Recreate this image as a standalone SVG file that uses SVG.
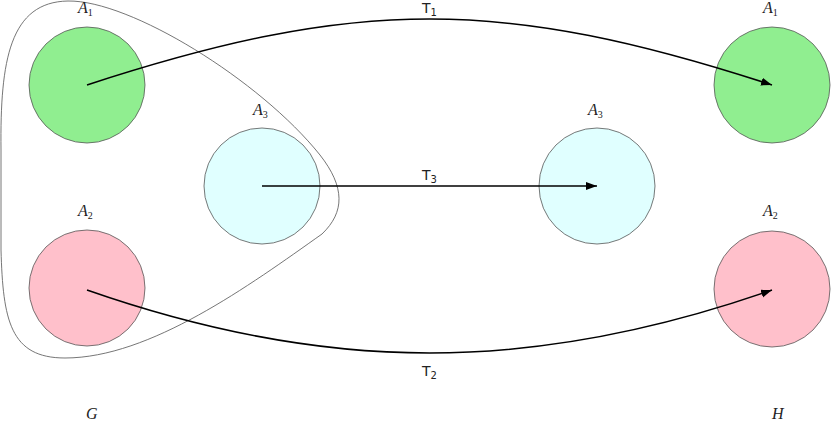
<svg xmlns="http://www.w3.org/2000/svg" width="831" height="421" viewBox="0 0 831 421">
<style>
.node circle{stroke:#555;stroke-width:0.8}
.g1{fill:#90EE90}.g3{fill:#E0FFFF}.g2{fill:#FFC0CB}
.lab{font-family:"Liberation Serif",serif;font-style:italic;font-size:16px;fill:#222}
.sub{font-family:"Liberation Serif",serif;font-style:normal;font-size:10px}
.t{font-family:"DejaVu Sans","Liberation Sans",sans-serif;font-size:14px;fill:#222}
.ts{font-size:10px}
.edge{fill:none;stroke:#000;stroke-width:1.5}
.blob{fill:none;stroke:#666;stroke-width:0.9}
</style>
<defs>
<marker id="ah" markerUnits="userSpaceOnUse" markerWidth="14" markerHeight="10" refX="11" refY="4" orient="auto">
<path d="M0,0 L11,4 L0,8 Z" fill="#000"/>
</marker>
</defs>
<g id="group-G">
<path class="blob" d="M68,1 C130,0 260,80 320,155 C345,187 345,212 322,234 C250,285 150,358 65,358 C10,358 3,320 1,250 L1,150 C0,60 10,2 68,1 Z"/>
<text class="lab" x="86" y="419">G</text>
</g>
<g id="label-H"><text class="lab" x="772" y="419">H</text></g>
<g id="G-A1" class="node"><circle class="g1" cx="87" cy="85" r="58"/><text class="lab" x="78" y="13">A<tspan class="sub" dy="3">1</tspan></text></g>
<g id="G-A3" class="node"><circle class="g3" cx="262" cy="186" r="58"/><text class="lab" x="253" y="115">A<tspan class="sub" dy="3">3</tspan></text></g>
<g id="G-A2" class="node"><circle class="g2" cx="87" cy="288" r="58"/><text class="lab" x="78" y="216">A<tspan class="sub" dy="3">2</tspan></text></g>
<g id="H-A1" class="node"><circle class="g1" cx="772" cy="85" r="58"/><text class="lab" x="763" y="13">A<tspan class="sub" dy="3">1</tspan></text></g>
<g id="H-A3" class="node"><circle class="g3" cx="597" cy="186" r="58"/><text class="lab" x="588" y="115">A<tspan class="sub" dy="3">3</tspan></text></g>
<g id="H-A2" class="node"><circle class="g2" cx="772" cy="289" r="58"/><text class="lab" x="763" y="216">A<tspan class="sub" dy="3">2</tspan></text></g>
<g id="connectors">
<path class="edge" marker-end="url(#ah)" d="M87,85 C357,-3 502,-3 772,85"/>
<path class="edge" marker-end="url(#ah)" d="M262,186 L597,186"/>
<path class="edge" marker-end="url(#ah)" d="M87,290 C327,374 532,374 772,290"/>
<text class="t" x="422" y="13">T<tspan class="ts" dy="3">1</tspan></text>
<text class="t" x="422" y="180">T<tspan class="ts" dy="3">3</tspan></text>
<text class="t" x="422" y="376">T<tspan class="ts" dy="3">2</tspan></text>
</g>
</svg>
